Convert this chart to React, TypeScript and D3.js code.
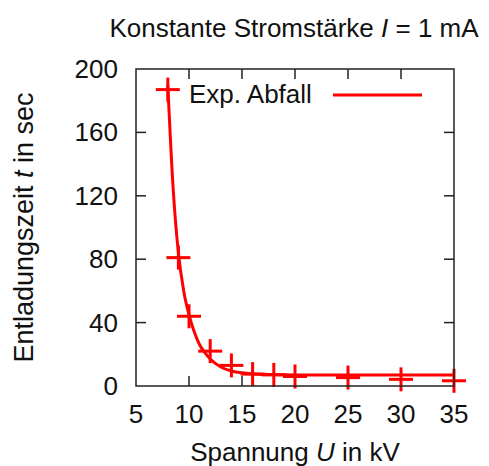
import React, { useRef, useEffect } from "react";
import * as d3 from "d3";

// measured discharge times (crosses)
const voltages = [8, 9, 10, 12, 14, 16, 18, 20, 25, 30, 35];
const times = [187, 81, 44, 22, 13, 7.5, 7, 6, 5.3, 4.2, 3.3];

// exponential fit curve
const fitU = [8, 8.5, 9, 9.5, 10, 10.5, 11, 11.5, 12, 13, 14, 15, 16, 18, 20, 25, 30, 35];
const fitT = [190, 125, 84, 60, 45, 34, 26, 21, 17, 12, 9.5, 8.3, 7.7, 7.2, 7, 7, 7, 7];

const xTicks = [5, 10, 15, 20, 25, 30, 35];
const yTicks = [0, 40, 80, 120, 160, 200];

const RED = "#ff0000";
const FONT = "'Liberation Sans', Arial, sans-serif";
const FS = "26px";

export default function App() {
  const svgRef = useRef<SVGSVGElement>(null);
  const width = 489;
  const height = 466;

  useEffect(() => {
    const svg = d3.select(svgRef.current);
    svg.selectAll("*").remove();

    const margin = { top: 69, right: 35, bottom: 80, left: 136 };
    const w = width - margin.left - margin.right;
    const h = height - margin.top - margin.bottom;

    svg.attr("width", width).attr("height", height);
    svg.append("rect").attr("width", width).attr("height", height).attr("fill", "#fff");

    const g = svg.append("g").attr("transform", `translate(${margin.left},${margin.top})`);

    const x = d3.scaleLinear().domain([5, 35]).range([0, w]);
    const y = d3.scaleLinear().domain([0, 200]).range([h, 0]);

    const tickLen = 10;
    const axisColor = "#222";

    // Ticks (inward, mirrored)
    const tickG = g.append("g").attr("stroke", axisColor).attr("stroke-width", 1.5);
    xTicks.slice(1, -1).forEach((t) => {
      tickG.append("line").attr("x1", x(t)).attr("x2", x(t)).attr("y1", h).attr("y2", h - tickLen);
      tickG.append("line").attr("x1", x(t)).attr("x2", x(t)).attr("y1", 0).attr("y2", tickLen);
    });
    yTicks.slice(1, -1).forEach((t) => {
      tickG.append("line").attr("x1", 0).attr("x2", tickLen).attr("y1", y(t)).attr("y2", y(t));
      tickG.append("line").attr("x1", w).attr("x2", w - tickLen).attr("y1", y(t)).attr("y2", y(t));
    });

    // Tick labels
    g.selectAll("text.xt")
      .data(xTicks)
      .join("text")
      .attr("class", "xt")
      .attr("x", (d) => x(d))
      .attr("y", h + 37)
      .attr("text-anchor", "middle")
      .attr("font-family", FONT)
      .attr("font-size", FS)
      .attr("fill", "#111")
      .text((d) => d);

    g.selectAll("text.yt")
      .data(yTicks)
      .join("text")
      .attr("class", "yt")
      .attr("x", -18)
      .attr("y", (d) => y(d) + 9)
      .attr("text-anchor", "end")
      .attr("font-family", FONT)
      .attr("font-size", FS)
      .attr("fill", "#111")
      .text((d) => d);

    // Clip for curve
    svg.append("defs")
      .append("clipPath")
      .attr("id", "plotclip")
      .append("rect")
      .attr("width", w)
      .attr("height", h);

    // Fit curve
    const line = d3
      .line<number>()
      .x((_, i) => x(fitU[i]))
      .y((d) => y(d))
      .curve(d3.curveMonotoneX);

    g.append("path")
      .attr("d", line(fitT))
      .attr("fill", "none")
      .attr("stroke", RED)
      .attr("stroke-width", 3)
      .attr("clip-path", "url(#plotclip)");

    // Data crosses
    const arm = 12;
    const cross = g.append("g").attr("stroke", RED).attr("stroke-width", 3);
    voltages.forEach((u, i) => {
      const cx = x(u);
      const cy = y(times[i]);
      cross.append("line").attr("x1", cx - arm).attr("x2", cx + arm).attr("y1", cy).attr("y2", cy);
      cross.append("line").attr("x1", cx).attr("x2", cx).attr("y1", cy - arm).attr("y2", cy + arm);
    });

    // Frame
    g.append("rect")
      .attr("width", w)
      .attr("height", h)
      .attr("fill", "none")
      .attr("stroke", axisColor)
      .attr("stroke-width", 1.5);

    // Legend
    g.append("text")
      .attr("x", 53)
      .attr("y", 34)
      .attr("font-family", FONT)
      .attr("font-size", FS)
      .attr("fill", "#111")
      .text("Exp. Abfall");
    g.append("line")
      .attr("x1", 197)
      .attr("x2", 286)
      .attr("y1", 26)
      .attr("y2", 26)
      .attr("stroke", RED)
      .attr("stroke-width", 3);

    // Title
    const title = svg
      .append("text")
      .attr("x", 294)
      .attr("y", 37)
      .attr("text-anchor", "middle")
      .attr("font-family", FONT)
      .attr("font-size", FS)
      .attr("fill", "#111");
    title.append("tspan").text("Konstante Stromstärke ");
    title.append("tspan").attr("font-style", "italic").text("I");
    title.append("tspan").text(" = 1 mA");

    // X label
    const xl = svg
      .append("text")
      .attr("x", margin.left + w / 2)
      .attr("y", 461)
      .attr("text-anchor", "middle")
      .attr("font-family", FONT)
      .attr("font-size", FS)
      .attr("fill", "#111");
    xl.append("tspan").text("Spannung ");
    xl.append("tspan").attr("font-style", "italic").text("U");
    xl.append("tspan").text(" in kV");

    // Y label
    const yl = svg
      .append("text")
      .attr("transform", `translate(33,${margin.top + h / 2}) rotate(-90)`)
      .attr("text-anchor", "middle")
      .attr("font-family", FONT)
      .attr("font-size", "27px")
      .attr("fill", "#111");
    yl.append("tspan").text("Entladungszeit ");
    yl.append("tspan").attr("font-style", "italic").text("t");
    yl.append("tspan").text(" in sec");
  }, []);

  return <svg ref={svgRef} style={{ position: "absolute", left: 0, top: 0 }} />;
}
